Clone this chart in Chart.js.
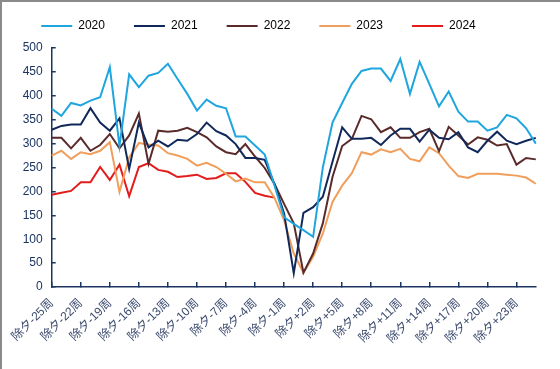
<!DOCTYPE html>
<html><head><meta charset="utf-8">
<script src="https://cdn.jsdelivr.net/npm/chart.js@4.4.1/dist/chart.umd.min.js"></script>
<style>html,body{margin:0;padding:0;background:#fff;}#wrap{width:560px;height:369px;}</style>
</head><body><div id="wrap"><canvas id="c" width="560" height="369"></canvas></div>
<script>
const categories = [
  '除夕-25周','除夕-24周','除夕-23周','除夕-22周','除夕-21周','除夕-20周','除夕-19周','除夕-18周','除夕-17周','除夕-16周',
  '除夕-15周','除夕-14周','除夕-13周','除夕-12周','除夕-11周','除夕-10周','除夕-9周','除夕-8周','除夕-7周','除夕-6周',
  '除夕-5周','除夕-4周','除夕-3周','除夕-2周','除夕-1周','除夕','除夕+1周','除夕+2周','除夕+3周','除夕+4周',
  '除夕+5周','除夕+6周','除夕+7周','除夕+8周','除夕+9周','除夕+10周','除夕+11周','除夕+12周','除夕+13周','除夕+14周',
  '除夕+15周','除夕+16周','除夕+17周','除夕+18周','除夕+19周','除夕+20周','除夕+21周','除夕+22周','除夕+23周','除夕+24周','除夕+25周'
];
const s2020 = [373,358,385,380,390,397,460,295,445,418,442,448,467,435,404,369,392,379,374,315,315,296,277,213,146,132,119,105,250,344,385,425,452,457,457,431,477,404,471,425,378,409,367,346,346,327,334,360,353,332,300];
const s2021 = [329,337,340,340,374,344,327,353,247,344,292,306,294,308,306,320,344,326,317,299,270,270,266,216,154,29,155,167,189,262,334,310,310,312,297,317,331,331,304,329,312,309,324,292,282,306,325,306,299,306,312];
const s2022 = [312,312,290,312,285,297,320,290,317,363,258,327,325,327,333,324,313,294,282,278,299,273,249,216,174,133,30,70,133,230,295,310,358,351,324,334,312,312,324,331,284,335,317,298,313,308,296,299,256,270,267];
const s2023 = [275,285,268,282,278,285,303,199,271,301,298,296,280,275,268,254,260,251,237,221,227,219,219,187,140,70,30,63,112,178,212,238,282,277,288,282,289,268,263,292,280,254,232,228,237,237,237,235,233,229,216];
const s2024 = [193,197,201,219,219,251,224,256,190,251,259,245,241,230,232,235,226,228,238,238,220,197,191,187];
const seriesNames = ['2020','2021','2022','2023','2024'];
const yTicks = [0,50,100,150,200,250,300,350,400,450,500];

const colors = ['#1fa6df','#10285a','#5a2b2b','#f09e5c','#e31c1c'];
const seriesData = [s2020,s2021,s2022,s2023,s2024];
const NAVY = '#1c3461';
const LEGEND_DX = -12, LEGEND_DY = -6;
const labelEvery = 3;

const frame = {
  id:'frame',
  beforeDraw(chart){
    const c = chart.ctx;
    c.save(); c.fillStyle='#fff'; c.fillRect(0,0,chart.width,chart.height);
    c.strokeStyle='#8a8a8a'; c.lineWidth=2;
    c.beginPath(); c.moveTo(1,chart.height); c.lineTo(1,1); c.lineTo(chart.width,1); c.stroke();
    c.restore();
  },
  afterLayout(chart){
    const lg = chart.legend;
    if (lg){ lg.left += LEGEND_DX; lg.right += LEGEND_DX; lg.top += LEGEND_DY; lg.bottom += LEGEND_DY; }
  }
};

new Chart(document.getElementById('c'), {
  type:'line',
  data:{
    labels: categories,
    datasets: seriesNames.map((n,i)=>({
      label:n, data:seriesData[i], borderColor:colors[i], backgroundColor:colors[i],
      borderWidth:2, pointRadius:0, tension:0, fill:false
    }))
  },
  plugins:[frame],
  options:{
    responsive:false, animation:false, devicePixelRatio:1,
    layout:{padding:{left:0,right:19,top:-3,bottom:0}},
    plugins:{
      tooltip:{enabled:false},
      legend:{
        position:'top', align:'center',
        labels:{
          boxWidth:31, boxHeight:2, padding:29, color:'#595959',
          font:{family:'"Liberation Sans", Arial, sans-serif', size:12},
          generateLabels(chart){
            return chart.data.datasets.map((d,i)=>({text:d.label, fillStyle:d.borderColor, strokeStyle:d.borderColor, lineWidth:0, datasetIndex:i, hidden:false}));
          }
        }
      }
    },
    scales:{
      x:{
        type:'category', offset:false,
        afterFit(s){ s.height = 82; },
        border:{display:true, color:NAVY, width:1.5},
        grid:{display:true, drawOnChartArea:false, drawTicks:true, tickLength:-5,
          color:(ctx)=> (ctx.index % labelEvery === 0 && ctx.index <= 48) ? NAVY : 'rgba(0,0,0,0)', lineWidth:1.5},
        ticks:{
          autoSkip:false, minRotation:45, maxRotation:45, padding:14, color:'#3b4a6e',
          font:{family:'"Liberation Sans", "Noto Sans CJK SC", sans-serif', size:12},
          callback(v,i){ return (i % labelEvery === 0 && i <= 48) ? categories[i] : ''; }
        }
      },
      y:{
        min:0, max:500,
        afterFit(s){ s.width = 49; },
        afterBuildTicks(s){ s.ticks = yTicks.map(v=>({value:v})); },
        border:{display:true, color:NAVY, width:1.5},
        grid:{display:true, drawOnChartArea:false, drawTicks:true, tickLength:-4, color:NAVY, lineWidth:1.5},
        ticks:{padding:13, color:NAVY, font:{family:'"Liberation Sans", Arial, sans-serif', size:12}}
      }
    }
  }
});
</script></body></html>
